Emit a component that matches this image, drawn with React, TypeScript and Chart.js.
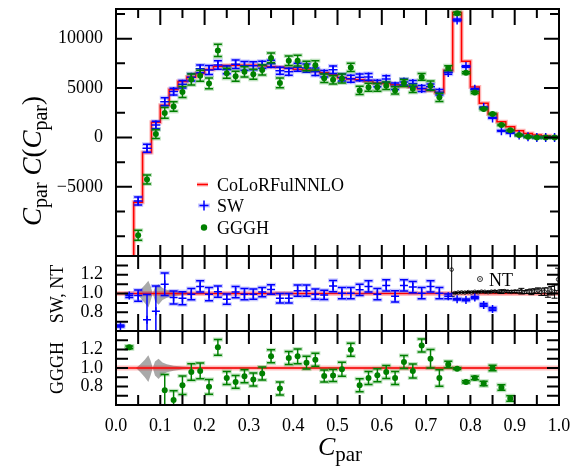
import React, { useEffect, useRef } from "react";
import { Chart, registerables } from "chart.js";

Chart.register(...registerables);

// ---------------- data ----------------
const binCenters = [0.01, 0.03, 0.05, 0.07, 0.09, 0.11, 0.13, 0.15, 0.17, 0.19, 0.21, 0.23, 0.25, 0.27, 0.29, 0.31, 0.33, 0.35, 0.37, 0.39, 0.41, 0.43, 0.45, 0.47, 0.49, 0.51, 0.53, 0.55, 0.57, 0.59, 0.61, 0.63, 0.65, 0.67, 0.69, 0.71, 0.73, 0.75, 0.77, 0.79, 0.81, 0.83, 0.85, 0.87, 0.89, 0.91, 0.93, 0.95, 0.97, 0.99];
const binWidth = 0.02;

const colorful = [-40000, -25000, -6570, -1530, 1530, 3265, 4850, 5670, 6120, 6460, 6870, 7200, 7280, 7300, 7300, 7300, 7250, 7150, 7100, 7000, 6900, 6820, 6700, 6550, 6350, 6050, 5920, 5850, 5700, 5510, 5450, 5340, 5170, 5100, 4930, 4760, 4550, 6770, 12650, 7710, 5100, 3470, 2380, 1590, 1080, 670, 410, 235, 160, 60];

const swValues = [null, null, -6430, -1100, 1250, 3620, 4640, 5390, 6080, 6940, 6820, 7340, 6840, 7410, 7250, 7250, 7360, 7460, 6750, 6650, 7110, 7020, 6650, 6450, 6860, 6070, 5940, 6080, 6130, 5470, 5920, 5180, 5610, 5450, 4950, 5120, 4570, 6570, 11890, 7180, 4880, 3020, 1980, 670, 470, 235, 60, 0, 0, 0];
const swErrors = [0, 0, 400, 410, 380, 400, 340, 380, 370, 390, 450, 430, 400, 440, 440, 400, 360, 360, 360, 350, 410, 410, 370, 330, 380, 360, 355, 350, 340, 330, 330, 320, 310, 305, 300, 285, 275, 170, 100, 80, 60, 50, 40, 40, 40, 30, 30, 20, 20, 20];

const ggghValues = [null, null, -9900, -4250, 340, 2480, 3120, 4600, 5860, 6250, 5470, 8800, 6490, 6200, 6640, 6390, 6820, 8050, 5520, 7760, 7770, 7220, 7300, 5990, 5830, 5970, 7090, 4760, 5080, 5070, 5220, 4760, 5510, 4940, 6130, 5240, 4060, 7020, 12560, 6550, 4550, 2890, 2380, 1260, 720, 235, 60, 0, 0, 0];
const ggghErrors = [0, 0, 500, 450, 450, 550, 480, 560, 550, 560, 550, 620, 510, 510, 510, 510, 510, 500, 500, 490, 550, 480, 470, 430, 410, 450, 415, 410, 400, 385, 380, 375, 360, 380, 345, 475, 410, 240, 130, 100, 100, 90, 70, 50, 40, 30, 30, 20, 20, 20];

const swRatio = [0.653, 0.978, 0.978, 0.72, 0.81, 1.10, 0.957, 0.95, 0.993, 1.075, 0.993, 1.02, 0.94, 1.015, 0.993, 0.993, 1.015, 1.043, 0.95, 0.95, 1.03, 1.03, 0.993, 0.985, 1.08, 1.004, 1.004, 1.04, 1.075, 0.993, 1.086, 0.97, 1.086, 1.069, 1.004, 1.075, 1.004, 0.97, 0.94, 0.932, 0.957, 0.878, 0.835, null, null, null, null, null, null, null];
const swRatioErr = [0.01, 0.02, 0.06, 0.27, 0.27, 0.12, 0.07, 0.07, 0.06, 0.06, 0.07, 0.06, 0.055, 0.06, 0.06, 0.055, 0.05, 0.05, 0.05, 0.05, 0.06, 0.06, 0.055, 0.05, 0.06, 0.06, 0.06, 0.06, 0.06, 0.06, 0.06, 0.06, 0.06, 0.06, 0.06, 0.06, 0.06, 0.025, 0.008, 0.01, 0.012, 0.015, 0.015, null, null, null, null, null, null, null];

const ggghRatio = [null, 1.223, null, null, null, 0.76, 0.653, 0.814, 0.957, 0.968, 0.796, 1.223, 0.892, 0.85, 0.91, 0.875, 0.94, 1.126, 0.778, 1.108, 1.126, 1.058, 1.09, 0.914, 0.918, 0.986, 1.198, 0.814, 0.892, 0.921, 0.957, 0.892, 1.065, 0.968, 1.244, 1.101, 0.892, 1.037, 0.993, 0.85, 0.892, 0.832, 1.0, 0.79, 0.67, null, null, null, null, null];
const ggghRatioErr = [null, 0.015, null, null, null, 0.17, 0.1, 0.1, 0.09, 0.085, 0.08, 0.085, 0.07, 0.07, 0.07, 0.07, 0.07, 0.07, 0.07, 0.07, 0.08, 0.07, 0.07, 0.065, 0.065, 0.075, 0.07, 0.07, 0.07, 0.07, 0.07, 0.07, 0.07, 0.075, 0.07, 0.1, 0.09, 0.035, 0.01, 0.012, 0.02, 0.025, 0.03, 0.03, 0.03, null, null, null, null, null];

const ntX = [0.7577, 0.765, 0.7725, 0.78, 0.7875, 0.795, 0.8025, 0.81, 0.8175, 0.825, 0.8325, 0.84, 0.8475, 0.855, 0.8625, 0.87, 0.8775, 0.885, 0.8925, 0.9, 0.9075, 0.915, 0.9225, 0.93, 0.9375, 0.945, 0.9525, 0.96, 0.9675, 0.975, 0.9825, 0.99, 0.998];
const ntRatio = [1.255, 1.005, 1.01, 1.012, 1.01, 1.015, 1.012, 1.018, 1.015, 1.02, 1.018, 1.015, 1.02, 1.022, 1.018, 1.02, 1.025, 1.02, 1.018, 1.022, 1.02, 1.025, 1.015, 1.02, 1.018, 1.025, 1.03, 1.015, 1.02, 1.01, 1.03, 1.02, 1.15];
const ntErr = [0.285, 0.004, 0.004, 0.004, 0.005, 0.005, 0.005, 0.005, 0.006, 0.006, 0.006, 0.007, 0.007, 0.008, 0.008, 0.02, 0.01, 0.01, 0.012, 0.012, 0.015, 0.03, 0.015, 0.02, 0.03, 0.025, 0.03, 0.035, 0.04, 0.05, 0.045, 0.07, 0.12];

// scale-uncertainty band of the reference prediction
const bandX = [0.045, 0.055, 0.065, 0.073, 0.078, 0.083, 0.088, 0.096, 0.105, 0.115, 0.13, 0.15, 0.17, 0.2, 0.3, 1.0];
const bandUpper = [1.0, 1.04, 1.09, 1.137, 1.08, 1.0, 1.07, 1.10, 1.06, 1.04, 1.025, 1.015, 1.01, 1.008, 1.006, 1.006];
const bandLower = [1.0, 0.955, 0.9, 0.85, 0.92, 1.0, 0.92, 0.88, 0.93, 0.955, 0.97, 0.983, 0.99, 0.992, 0.994, 0.994];

// ticks
const xMajorTicks = [0, 0.1, 0.2, 0.3, 0.4, 0.5, 0.6, 0.7, 0.8, 0.9, 1.0];
const xMinorTicks = [0.05, 0.15, 0.25, 0.35, 0.45, 0.55, 0.65, 0.75, 0.85, 0.95];
const topLabelTicks = [-5000, 0, 5000, 10000];
const topMinorTicks = [-10000, -7500, -2500, 2500, 7500, 12500];
const ratioLabelTicks = [0.8, 1.0, 1.2];
const ratioTickMarks = [0.7, 0.8, 0.9, 1.0, 1.1, 1.2, 1.3];

const FONT = "'Liberation Serif', 'Times New Roman', serif";
const GREEN = "#008000";

function toPoints(xs: number[], ys: (number | null)[], es: (number | null)[]) {
  const data: { x: number; y: number }[] = [];
  const errs: number[] = [];
  xs.forEach((x, i) => {
    const y = ys[i];
    if (y === null || y === undefined) return;
    data.push({ x, y });
    errs.push(es[i] ?? 0);
  });
  return { data, errs };
}

const errorBarPlugin = {
  id: "errorBars",
  beforeDatasetDraw(chart: any, args: any) {
    const ctx = chart.ctx;
    const meta = args.meta;
    const ds: any = chart.data.datasets[args.index];
    const xs = meta.xScale, ys = meta.yScale;
    ctx.save();
    ctx.beginPath();
    ctx.rect(xs.left, ys.top, xs.right - xs.left, ys.bottom - ys.top);
    ctx.clip();
    if (ds.errs && ds.haloColor) {
      ctx.fillStyle = ds.haloColor;
      ds.data.forEach((p: any, i: number) => {
        const e = ds.errs[i];
        const px = xs.getPixelForValue(p.x);
        const yT = ys.getPixelForValue(p.y + e);
        const yB = ys.getPixelForValue(p.y - e);
        const hw = ds.capHalf + 1;
        ctx.fillRect(px - hw, yT - 2, 2 * hw, 4);
        ctx.fillRect(px - hw, yB - 2, 2 * hw, 4);
      });
    }
  },
  afterDatasetDraw(chart: any, args: any) {
    const ctx = chart.ctx;
    const meta = args.meta;
    const ds: any = chart.data.datasets[args.index];
    const xs = meta.xScale, ys = meta.yScale;
    if (ds.errs) {
      ctx.strokeStyle = ds.errColor;
      ctx.lineWidth = ds.errWidth || 1.5;
      ctx.beginPath();
      ds.data.forEach((p: any, i: number) => {
        const e = ds.errs[i];
        if (!e) return;
        const px = xs.getPixelForValue(p.x);
        const yT = ys.getPixelForValue(p.y + e);
        const yB = ys.getPixelForValue(p.y - e);
        ctx.moveTo(px, yT);
        ctx.lineTo(px, yB);
        ctx.moveTo(px - ds.capHalf, yT);
        ctx.lineTo(px + ds.capHalf, yT);
        ctx.moveTo(px - ds.capHalf, yB);
        ctx.lineTo(px + ds.capHalf, yB);
      });
      ctx.stroke();
    }
    ctx.restore();
  },
};

type Part = { text: string; font: string; dy?: number };
function drawRich(ctx: CanvasRenderingContext2D, parts: Part[], x: number, y: number, angle: number) {
  ctx.save();
  ctx.translate(x, y);
  ctx.rotate(angle);
  let total = 0;
  parts.forEach((p) => {
    ctx.font = p.font;
    total += ctx.measureText(p.text).width;
  });
  let cx = -total / 2;
  ctx.textAlign = "left";
  ctx.textBaseline = "alphabetic";
  ctx.fillStyle = "#000";
  parts.forEach((p) => {
    ctx.font = p.font;
    ctx.fillText(p.text, cx, p.dy || 0);
    cx += ctx.measureText(p.text).width;
  });
  ctx.restore();
}

const framePlugin = {
  id: "frames",
  afterDatasetsDraw(chart: any) {
    const ctx: CanvasRenderingContext2D = chart.ctx;
    const xs = chart.scales.x;
    const specs = [
      { id: "y", yMajor: topLabelTicks, yMinor: topMinorTicks, yMajL: 16, yMinL: 9, yMajR: 15, yMinR: 9, xTopMaj: 16, xTopMin: 9, xBotMaj: 11, xBotMin: 11 },
      { id: "y2", yMajor: ratioTickMarks, yMinor: [], yMajL: 12, yMinL: 12, yMajR: 12, yMinR: 12, xTopMaj: 13, xTopMin: 13, xBotMaj: 17, xBotMin: 17 },
      { id: "y3", yMajor: ratioTickMarks, yMinor: [], yMajL: 12, yMinL: 12, yMajR: 12, yMinR: 12, xTopMaj: 13, xTopMin: 13, xBotMaj: 10, xBotMin: 10 },
    ];
    ctx.save();
    ctx.strokeStyle = "#000";
    ctx.lineWidth = 2;
    specs.forEach((s) => {
      const ys = chart.scales[s.id];
      const L = xs.left, R = xs.right, T = ys.top, B = ys.bottom;
      ctx.beginPath();
      const xt = (vals: number[], top: number, bot: number) => {
        vals.forEach((v) => {
          const px = xs.getPixelForValue(v);
          ctx.moveTo(px, T);
          ctx.lineTo(px, T + top);
          ctx.moveTo(px, B);
          ctx.lineTo(px, B - bot);
        });
      };
      xt(xMajorTicks, s.xTopMaj, s.xBotMaj);
      xt(xMinorTicks, s.xTopMin, s.xBotMin);
      const yt = (vals: number[], l: number, r: number) => {
        vals.forEach((v) => {
          const py = ys.getPixelForValue(v);
          ctx.moveTo(L, py);
          ctx.lineTo(L + l, py);
          ctx.moveTo(R, py);
          ctx.lineTo(R - r, py);
        });
      };
      yt(s.yMajor, s.yMajL, s.yMajR);
      yt(s.yMinor, s.yMinL, s.yMinR);
      ctx.stroke();
      ctx.strokeRect(L, T, R - L, B - T);
    });
    ctx.restore();
  },
  afterDraw(chart: any) {
    const ctx: CanvasRenderingContext2D = chart.ctx;
    const it = (n: number) => `italic ${n}px ${FONT}`;
    const rm = (n: number) => `${n}px ${FONT}`;
    // axis titles
    drawRich(ctx, [
      { text: "C", font: it(27) },
      { text: "par", font: rm(20), dy: 6 },
      { text: " ", font: rm(27) },
      { text: "C", font: it(27) },
      { text: "(", font: rm(27) },
      { text: "C", font: it(27) },
      { text: "par", font: rm(20), dy: 6 },
      { text: ")", font: rm(27) },
    ], 41, 161, -Math.PI / 2);
    drawRich(ctx, [{ text: "SW, NT", font: rm(18) }], 63, 294, -Math.PI / 2);
    drawRich(ctx, [{ text: "GGGH", font: rm(18) }], 63, 368, -Math.PI / 2);
    drawRich(ctx, [
      { text: "C", font: it(26) },
      { text: "par", font: rm(21), dy: 6 },
    ], 340, 455, 0);

    // legend (top panel)
    ctx.save();
    ctx.font = rm(18);
    ctx.fillStyle = "#000";
    ctx.textAlign = "left";
    ctx.textBaseline = "alphabetic";
    ctx.fillText("CoLoRFulNNLO", 217, 190.5);
    ctx.fillText("SW", 217, 211.5);
    ctx.fillText("GGGH", 217, 233.5);
    ctx.fillText("NT", 489, 285.5);
    // markers
    ctx.strokeStyle = "rgba(255,0,0,0.3)";
    ctx.lineWidth = 4;
    ctx.beginPath(); ctx.moveTo(197, 184.5); ctx.lineTo(208, 184.5); ctx.stroke();
    ctx.strokeStyle = "#ff0000";
    ctx.lineWidth = 1.5;
    ctx.beginPath(); ctx.moveTo(197, 184.5); ctx.lineTo(208, 184.5); ctx.stroke();
    ctx.fillStyle = "rgba(40,40,255,0.25)";
    ctx.fillRect(198, 203.5, 12, 4);
    ctx.strokeStyle = "#0000ff";
    ctx.beginPath();
    ctx.moveTo(204, 200.5); ctx.lineTo(204, 210.5);
    ctx.moveTo(199.5, 205.5); ctx.lineTo(208.5, 205.5);
    ctx.stroke();
    ctx.fillStyle = GREEN;
    ctx.beginPath(); ctx.arc(204, 227.5, 3.2, 0, Math.PI * 2); ctx.fill();
    ctx.strokeStyle = "#000";
    ctx.lineWidth = 0.8;
    ctx.beginPath(); ctx.arc(480, 279, 2.5, 0, Math.PI * 2); ctx.stroke();
    ctx.fillStyle = "#000";
    ctx.beginPath(); ctx.arc(480, 279, 0.7, 0, Math.PI * 2); ctx.fill();
    ctx.restore();
  },
};

function makeConfig(): any {
  const hist = binCenters.map((c, i) => ({ x: c - binWidth / 2, y: colorful[i] }));
  hist.push({ x: binCenters[binCenters.length - 1] + binWidth / 2, y: colorful[colorful.length - 1] });
  const sw = toPoints(binCenters, swValues, swErrors);
  const gg = toPoints(binCenters, ggghValues, ggghErrors);
  const swR = toPoints(binCenters, swRatio, swRatioErr);
  const ggR = toPoints(binCenters, ggghRatio, ggghRatioErr);
  const nt = toPoints(ntX, ntRatio, ntErr);
  const unit = [{ x: 0, y: 1 }, { x: 1, y: 1 }];
  const bandUp = bandX.map((x, i) => ({ x, y: bandUpper[i] }));
  const bandLo = bandX.map((x, i) => ({ x, y: bandLower[i] }));

  const lineBase = { type: "line", pointRadius: 0, fill: false, clip: 0 };
  const bandSets = (axis: string, ord: number) => [
    { ...lineBase, yAxisID: axis, data: bandUp, borderWidth: 1, borderColor: "rgba(0,0,0,0)", order: ord },
    { ...lineBase, yAxisID: axis, data: bandLo, borderWidth: 1, borderColor: "rgba(0,0,0,0)", fill: "-1", backgroundColor: "#a9a9a9", order: ord - 1 },
    { ...lineBase, yAxisID: axis, data: unit, borderWidth: 5, borderColor: "rgba(255,0,0,0.25)", order: ord - 2 },
    { ...lineBase, yAxisID: axis, data: unit, borderWidth: 1.5, borderColor: "#ff0000", order: ord - 3 },
  ];

  const datasets: any[] = [
    { ...lineBase, yAxisID: "y", data: hist, stepped: "before", borderWidth: 4, borderColor: "rgba(255,0,0,0.3)", order: 60 },
    { ...lineBase, yAxisID: "y", data: hist, stepped: "before", borderWidth: 1.5, borderColor: "#ff0000", order: 59 },
    { type: "scatter", yAxisID: "y", data: sw.data, errs: sw.errs, pointStyle: "cross", pointRadius: 4.5, borderWidth: 1.5, borderColor: "#0000ff", errColor: "#0000ff", haloColor: "rgba(40,40,255,0.25)", capHalf: 4, order: 58 },
    { type: "scatter", yAxisID: "y", data: gg.data, errs: gg.errs, pointStyle: "circle", pointRadius: 3, borderWidth: 0, backgroundColor: GREEN, borderColor: GREEN, errColor: GREEN, haloColor: "rgba(0,140,0,0.25)", capHalf: 4, order: 57 },
    ...bandSets("y2", 50),
    { type: "scatter", yAxisID: "y2", data: nt.data, errs: nt.errs, pointStyle: "circle", pointRadius: 1.8, borderWidth: 0.8, borderColor: "#000", backgroundColor: "#fff", errColor: "#000", errWidth: 1, capHalf: 3, order: 45 },
    { type: "scatter", yAxisID: "y2", data: swR.data, errs: swR.errs, pointStyle: "cross", pointRadius: 4, borderWidth: 1.5, borderColor: "#0000ff", errColor: "#0000ff", haloColor: "rgba(40,40,255,0.25)", capHalf: 4, order: 44 },
    ...bandSets("y3", 40),
    { type: "scatter", yAxisID: "y3", data: ggR.data, errs: ggR.errs, pointStyle: "circle", pointRadius: 3, borderWidth: 0, backgroundColor: GREEN, borderColor: GREEN, errColor: GREEN, haloColor: "rgba(0,140,0,0.25)", capHalf: 4, order: 35 },
  ];

  const tickFont = { family: FONT, size: 18 };
  const yCommon = (weightOrder: number, stackWeight: number, min: number, max: number, labels: number[], fmt: (v: number) => string) => ({
    type: "linear",
    position: "left",
    stack: "panels",
    stackWeight,
    weight: weightOrder,
    min,
    max,
    grid: { display: false, drawTicks: false },
    border: { display: false },
    afterBuildTicks: (s: any) => { s.ticks = labels.map((v) => ({ value: v })); },
    afterFit: (s: any) => { s.width = 116; s.paddingTop = 0; s.paddingBottom = 0; },
    ticks: { callback: (v: any) => fmt(Number(v)), font: tickFont, color: "#000", padding: 13, autoSkip: false },
  });

  return {
    type: "scatter",
    data: { datasets },
    options: {
      animation: false,
      responsive: false,
      devicePixelRatio: 1,
      events: [],
      layout: { padding: { left: 0, right: 27, top: 9, bottom: 0 } },
      plugins: { legend: { display: false }, tooltip: { enabled: false } },
      scales: {
        x: {
          type: "linear",
          position: "bottom",
          min: 0,
          max: 1,
          grid: { display: false, drawTicks: false },
          border: { display: false },
          afterBuildTicks: (s: any) => { s.ticks = xMajorTicks.map((v) => ({ value: v })); },
          afterFit: (s: any) => { s.height = 61; s.paddingLeft = 0; s.paddingRight = 0; },
          ticks: { callback: (v: any) => Number(v).toFixed(1), font: tickFont, color: "#000", padding: 10, maxRotation: 0, autoSkip: false },
        },
        y: yCommon(3, 247, -12000, 13000, topLabelTicks, (v) => (v < 0 ? "\u2212" + Math.abs(v) : String(v))),
        y2: yCommon(2, 75, 0.6, 1.4, ratioLabelTicks, (v) => v.toFixed(1)),
        y3: yCommon(1, 74, 0.6, 1.4, ratioLabelTicks, (v) => v.toFixed(1)),
      },
    },
    plugins: [errorBarPlugin, framePlugin],
  };
}

export default function App() {
  const ref = useRef<HTMLCanvasElement>(null);
  useEffect(() => {
    const chart = new Chart(ref.current as HTMLCanvasElement, makeConfig());
    return () => chart.destroy();
  }, []);
  return (
    <div style={{ position: "absolute", left: 0, top: 0, width: 586, height: 466, background: "#fff" }}>
      <canvas ref={ref} width={586} height={466} style={{ display: "block" }} />
    </div>
  );
}
